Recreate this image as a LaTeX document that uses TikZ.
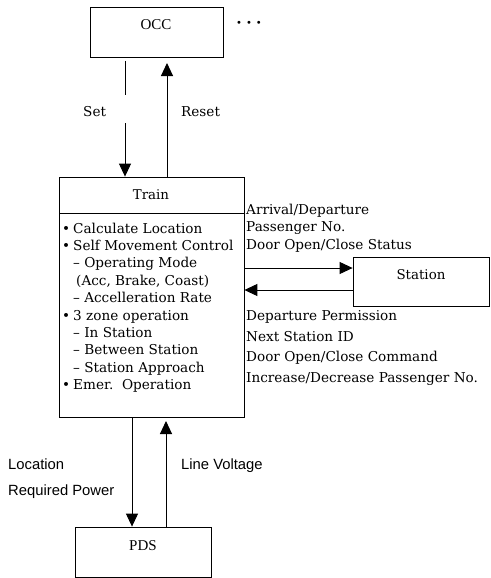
\documentclass[tikz,border=0pt]{standalone}
\usetikzlibrary{arrows.meta}
\usepackage{fontspec}
\setmainfont{DejaVu Serif}
\newfontfamily\sansf{Liberation Sans}
\newfontfamily\thinf{Liberation Serif}
\begin{document}
\begin{tikzpicture}[x=1pt,y=-1pt,
  box/.style={draw, line width=0.8pt, inner sep=0pt},
  lbl/.style={anchor=base west, inner sep=0pt, font=\fontsize{13.6}{17}\selectfont},
  slbl/.style={anchor=base west, inner sep=0pt, font=\sansf\fontsize{14.8}{17}\selectfont},
  ctext/.style={inner sep=0pt, font=\fontsize{13.4}{17}\selectfont},
  thtext/.style={inner sep=0pt, font=\thinf\fontsize{15}{17}\selectfont},
  arr/.style={line width=1pt, -{Triangle[width=12pt,length=13pt]}},
  plain/.style={line width=1pt}]
\useasboundingbox (0,0) rectangle (490,578);
% boxes
\node[box, minimum width=133pt, minimum height=50pt] (occ) at (156.5,32) {};
\node[thtext] (occt) at (156,25) {OCC};
\node[inner sep=0pt, font=\fontsize{10}{12}\selectfont] (dots) at (249,24) {\textbullet\hspace{4pt}\textbullet\hspace{4pt}\textbullet};
\node[box, minimum width=185pt, minimum height=240pt] (train) at (151.5,297) {};
\node[ctext] (traint) at (151,195) {Train};
\coordinate (dl) at (59,213);
\coordinate (dr) at (244,213);
\draw[line width=0.8pt] (dl) -- (dr);
\node[box, minimum width=136pt, minimum height=49pt] (station) at (421,281.5) {};
\node[ctext] (stationt) at (421,275) {Station};
\node[box, minimum width=136pt, minimum height=50pt] (pds) at (143,552) {};
\node[thtext] (pdst) at (143,546) {PDS};
% train body text
\node[lbl] (b1) at (62,233) {\makebox[11pt][l]{\textbullet}Calculate Location};
\node[lbl] (b2) at (62,250.4) {\makebox[11pt][l]{\textbullet}Self Movement Control};
\node[lbl] (b3) at (73,267.8) {\textendash\ Operating Mode};
\node[lbl] (b4) at (76,285.2) {(Acc, Brake, Coast)};
\node[lbl] (b5) at (73,302.6) {\textendash\ Accelleration Rate};
\node[lbl] (b6) at (62,320) {\makebox[11pt][l]{\textbullet}3 zone operation};
\node[lbl] (b7) at (73,337.4) {\textendash\ In Station};
\node[lbl] (b8) at (73,354.8) {\textendash\ Between Station};
\node[lbl] (b9) at (73,372.2) {\textendash\ Station Approach};
\node[lbl] (b10) at (62,389.6) {\makebox[11pt][l]{\textbullet}Emer.\ \ Operation};
% station labels
\node[lbl] (r1) at (246,214) {Arrival/Departure};
\node[lbl] (r2) at (246,231.5) {Passenger No.};
\node[lbl] (r3) at (246,249) {Door Open/Close Status};
\node[lbl] (r4) at (246,320) {Departure Permission};
\node[lbl] (r5) at (246,341) {Next Station ID};
\node[lbl] (r6) at (246,361.5) {Door Open/Close Command};
\node[lbl] (r7) at (246,382) {Increase/Decrease Passenger No.};
% OCC labels
\node[lbl] (set) at (83,116) {Set};
\node[lbl] (reset) at (181,116) {Reset};
% PDS labels
\node[slbl] (loc) at (8,469) {Location};
\node[slbl] (req) at (8,495) {Required Power};
\node[slbl] (lv) at (181,469) {Line Voltage};
% connectors
\coordinate (s1) at (125,61);
\coordinate (s2) at (125,95);
\coordinate (s3) at (125,123);
\draw[plain] (s1) -- (s2);
\draw[arr] (s3) -- (s3 |- train.north);
\coordinate (rs) at (167,63);
\draw[arr] (rs |- train.north) -- (rs);
\coordinate (ra) at (0,268);
\coordinate (la) at (0,290);
\draw[arr] (train.east |- ra) -- (station.west |- ra);
\draw[arr] (station.west |- la) -- (train.east |- la);
\coordinate (lo) at (132,0);
\draw[arr] (lo |- train.south) -- (lo |- pds.north);
\coordinate (lvt) at (166,421);
\draw[arr] (lvt |- pds.north) -- (lvt);
\end{tikzpicture}
\end{document}
